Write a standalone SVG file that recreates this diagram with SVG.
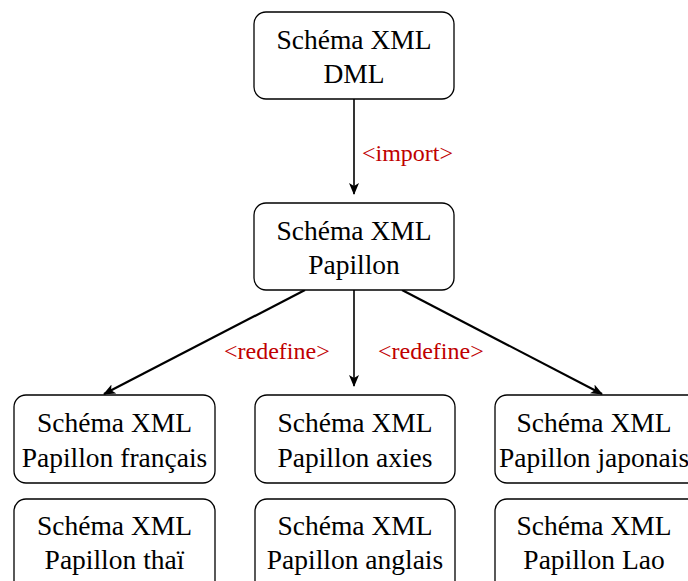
<svg xmlns="http://www.w3.org/2000/svg" width="688" height="581" viewBox="0 0 688 581">
<defs>
<style>
.box{fill:#fff;stroke:#000;stroke-width:1.3}
.t{font-family:"Liberation Serif","Times New Roman",serif;font-size:27.5px;fill:#000;text-anchor:middle}
.lbl{font-family:"Liberation Serif","Times New Roman",serif;font-size:24px;fill:#c00000}
.edge{stroke:#000;stroke-width:1.6;fill:none;marker-end:url(#ah)}
.diag{stroke-width:2.2}
</style>
<marker id="ah" viewBox="0 0 12 10" refX="11" refY="5" markerWidth="12" markerHeight="10" markerUnits="userSpaceOnUse" orient="auto">
<path d="M0,0 L12,5 L0,10 L3,5 Z" fill="#000"/>
</marker>
</defs>
<rect width="688" height="581" fill="#fff"/>
<g id="connectors">
<line class="edge" x1="354" y1="99" x2="354" y2="194"/>
<line class="edge diag" x1="305" y1="290" x2="104" y2="394"/>
<line class="edge" x1="354" y1="290" x2="354" y2="386"/>
<line class="edge diag" x1="402" y1="290" x2="602" y2="394"/>
<text class="lbl" x="362" y="161">&lt;import&gt;</text>
<text class="lbl" x="224" y="359">&lt;redefine&gt;</text>
<text class="lbl" x="378" y="359">&lt;redefine&gt;</text>
</g>
<g id="dml">
<rect class="box" x="254" y="12" width="200" height="87" rx="12"/>
<text class="t" x="354" y="49">Schéma XML</text>
<text class="t" x="354" y="83">DML</text>
</g>
<g id="papillon">
<rect class="box" x="254" y="203" width="200" height="87" rx="12"/>
<text class="t" x="354" y="240">Schéma XML</text>
<text class="t" x="354" y="274">Papillon</text>
</g>
<g id="francais">
<rect class="box" x="14" y="395" width="201" height="88" rx="12"/>
<text class="t" x="114.5" y="432">Schéma XML</text>
<text class="t" x="114.5" y="467">Papillon français</text>
</g>
<g id="axies">
<rect class="box" x="255" y="395" width="200" height="88" rx="12"/>
<text class="t" x="355" y="432">Schéma XML</text>
<text class="t" x="355" y="467">Papillon axies</text>
</g>
<g id="japonais">
<rect class="box" x="495" y="395" width="210" height="88" rx="12"/>
<text class="t" x="594" y="432">Schéma XML</text>
<text class="t" x="594" y="467">Papillon japonais</text>
</g>
<g id="thai">
<rect class="box" x="14" y="499" width="201" height="100" rx="12"/>
<text class="t" x="114.5" y="535">Schéma XML</text>
<text class="t" x="114.5" y="569">Papillon thaï</text>
</g>
<g id="anglais">
<rect class="box" x="255" y="499" width="200" height="100" rx="12"/>
<text class="t" x="355" y="535">Schéma XML</text>
<text class="t" x="355" y="569">Papillon anglais</text>
</g>
<g id="lao">
<rect class="box" x="495" y="499" width="210" height="100" rx="12"/>
<text class="t" x="594" y="535">Schéma XML</text>
<text class="t" x="594" y="569">Papillon Lao</text>
</g>
</svg>
